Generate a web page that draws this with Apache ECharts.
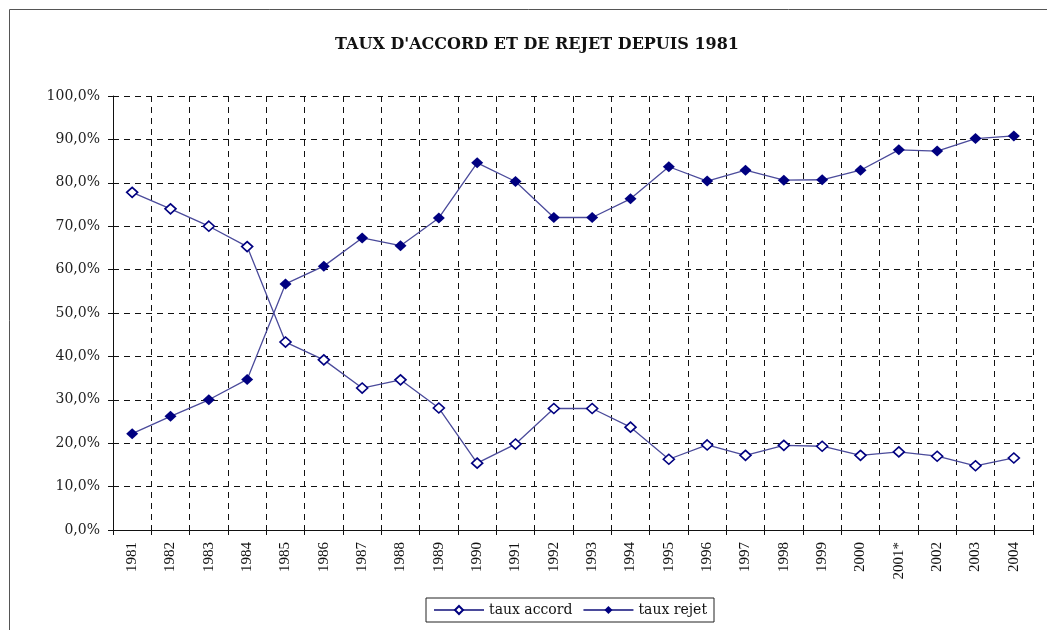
<!DOCTYPE html>
<html>
<head>
<meta charset="utf-8">
<script src="https://cdn.jsdelivr.net/npm/echarts@6/dist/echarts.min.js"></script>
<style>
  html, body { margin: 0; padding: 0; background: #fff; }
  #chart { width: 1047px; height: 630px; }
</style>
</head>
<body>
<div id="chart"></div>
<script>
const years = ['1981', '1982', '1983', '1984', '1985', '1986', '1987', '1988', '1989', '1990',
  '1991', '1992', '1993', '1994', '1995', '1996', '1997', '1998', '1999', '2000',
  '2001*', '2002', '2003', '2004']

// taux accord (%)
const tauxAccord = [77.8, 74.0, 70.0, 65.3, 43.3, 39.2, 32.7, 34.6, 28.1, 15.4,
  19.8, 28.0, 28.0, 23.7, 16.3, 19.6, 17.2, 19.5, 19.3, 17.2,
  18.0, 17.0, 14.8, 16.6]

// taux rejet (%)
const tauxRejet = [22.2, 26.2, 30.0, 34.7, 56.7, 60.8, 67.3, 65.5, 71.9, 84.6,
  80.3, 72.0, 72.0, 76.3, 83.7, 80.4, 82.9, 80.6, 80.7, 82.9,
  87.6, 87.3, 90.2, 90.8]

const yTicks = { min: 0, max: 100, interval: 10 }

// l'original est étiré en largeur : police plus large pour le texte horizontal
const serif = '"Liberation Serif", "DejaVu Serif", serif'
const wideSerif = '"DejaVu Serif", "Liberation Serif", serif'
const navy = '#000080'

const chart = echarts.init(document.getElementById('chart'))

chart.setOption({
  animation: false,
  backgroundColor: '#fff',
  textStyle: { fontFamily: serif },
  graphic: [
    {
      // cadre autour du graphique
      type: 'rect',
      silent: true,
      shape: { x: 9.5, y: 9.5, width: 1100, height: 700 },
      style: { fill: null, stroke: '#555', lineWidth: 1 }
    }
  ],
  title: {
    text: "TAUX D'ACCORD ET DE REJET DEPUIS 1981",
    left: 330,
    top: 32,
    textStyle: { fontFamily: wideSerif, fontSize: 16, fontWeight: 'bold', color: '#111' }
  },
  legend: {
    bottom: 8,
    left: 426,
    itemWidth: 50,
    itemHeight: 10,
    itemGap: 10,
    padding: [5, 7, 5, 7],
    borderColor: '#222',
    borderWidth: 1,
    textStyle: { fontFamily: wideSerif, fontSize: 14, color: '#111' },
    data: ['taux accord', 'taux rejet']
  },
  grid: { left: 113, right: 14, top: 96, bottom: 100 },
  xAxis: {
    type: 'category',
    data: years,
    boundaryGap: true,
    axisLine: { lineStyle: { color: '#111', width: 1 } },
    axisTick: { show: true, length: 5, lineStyle: { color: '#111' } },
    axisLabel: {
      rotate: 90,
      margin: 12,
      interval: 0,
      fontFamily: serif,
      fontSize: 15,
      color: '#111'
    },
    splitLine: {
      show: true,
      lineStyle: { color: '#111', type: [6, 5], width: 1 }
    }
  },
  yAxis: {
    type: 'value',
    min: yTicks.min,
    max: yTicks.max,
    interval: yTicks.interval,
    axisLine: { show: true, lineStyle: { color: '#111', width: 1 } },
    axisTick: { show: true, length: 5, lineStyle: { color: '#111' } },
    axisLabel: {
      margin: 13,
      fontFamily: wideSerif,
      fontSize: 14,
      color: '#222',
      formatter: v => v.toFixed(1).replace('.', ',') + '%'
    },
    splitLine: {
      show: true,
      lineStyle: { color: '#111', type: [6, 5], width: 1 }
    }
  },
  series: [
    {
      name: 'taux accord',
      type: 'line',
      data: tauxAccord,
      symbol: 'diamond',
      symbolSize: [11, 10],
      color: navy,
      lineStyle: { color: '#4b4b9b', width: 1.3 },
      itemStyle: { color: '#fff', borderColor: navy, borderWidth: 1.6 }
    },
    {
      name: 'taux rejet',
      type: 'line',
      data: tauxRejet,
      symbol: 'diamond',
      symbolSize: [12, 11],
      color: navy,
      lineStyle: { color: '#4b4b9b', width: 1.3 },
      itemStyle: { color: navy, borderColor: navy, borderWidth: 0 }
    }
  ]
})
</script>
</body>
</html>
